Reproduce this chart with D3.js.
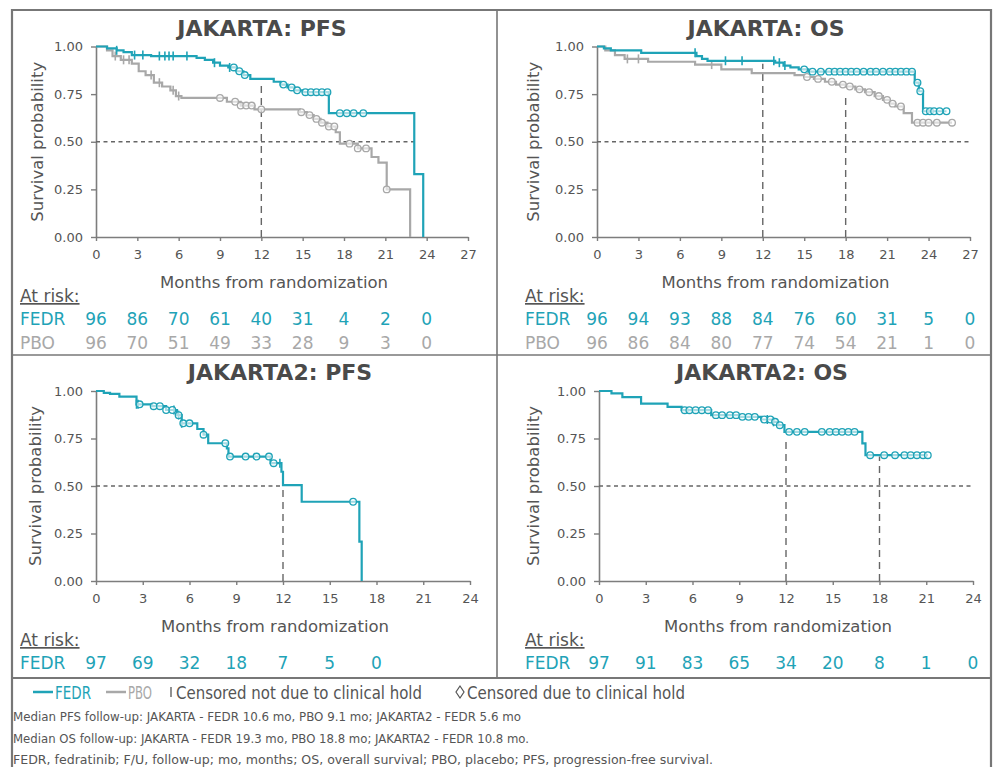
<!DOCTYPE html>
<html>
<head>
<meta charset="utf-8">
<script src="https://cdn.jsdelivr.net/npm/d3@7"></script>
<style>
  body { margin: 0; background: #fff; }
  text { font-family: "DejaVu Sans", Verdana, sans-serif; }
  .narrow { font-family: "Liberation Sans Narrow", "DejaVu Sans Condensed", "Roboto", sans-serif; }
</style>
</head>
<body>
<svg id="chart" width="995" height="767"></svg>
<script>
// ---- data (months, survival probability) ----

// JAKARTA PFS
const jakPfsFedr = [[0,1],[0.8,0.99],[1.5,0.98],[2.0,0.97],[2.6,0.955],[4.0,0.95],[7.3,0.94],[7.9,0.93],
  [8.5,0.915],[9.0,0.90],[9.6,0.89],[10.2,0.87],[10.7,0.85],[11.2,0.83],[12.9,0.815],[13.4,0.80],
  [13.9,0.785],[14.4,0.77],[15.0,0.76],[16.9,0.65],[23.1,0.33],[23.75,0]];
const jakPfsFedrTicks = [1.5, 2.8, 3.4, 4.6, 5.0, 5.3, 5.6, 6.6, 8.6, 9.7];
const jakPfsFedrHold = [10.0, 10.4, 10.8, 13.6, 14.2, 14.6, 15.2, 15.6, 16.0, 16.4, 16.8, 17.7, 18.2, 18.7, 19.4];
const jakPfsPbo = [[0,1],[0.8,0.98],[1.2,0.95],[1.8,0.93],[2.6,0.91],[3.1,0.87],[3.6,0.85],[4.2,0.81],
  [4.8,0.79],[5.4,0.77],[5.8,0.74],[6.2,0.73],[9.5,0.71],[10.5,0.69],[11.5,0.67],[14.8,0.655],
  [15.3,0.64],[15.8,0.62],[16.3,0.60],[16.8,0.58],[17.4,0.55],[17.7,0.49],[19.0,0.465],[20.0,0.42],
  [20.5,0.39],[21.1,0.25],[22.8,0]];
const jakPfsPboTicks = [1.4, 2.0, 2.4, 4.0, 4.6, 5.6, 6.0];
const jakPfsPboHold = [9.0, 10.1, 10.5, 10.9, 11.3, 12.0, 14.9, 15.5, 16.0, 16.4, 16.9, 17.3, 18.4, 19.0, 19.6, 21.1];

// JAKARTA OS
const jakOsFedr = [[0,1],[0.5,0.99],[1.0,0.98],[3.2,0.967],[7.2,0.95],[7.6,0.935],[8.0,0.925],
  [12.9,0.915],[13.5,0.90],[14.0,0.89],[14.6,0.88],[15.3,0.868],[23.0,0.81],[23.3,0.765],[23.6,0.66],[25.3,0.66]];
const jakOsFedrTicks = [7.1, 9.3, 10.5, 12.8, 13.2, 13.6];
const jakOsFedrHold = [15.0, 15.6, 16.2, 16.8, 17.2, 17.6, 18.0, 18.4, 18.8, 19.3, 19.8, 20.2, 20.7, 21.2,
  21.6, 22.0, 22.4, 22.8, 23.2, 23.4, 23.8, 24.1, 24.4, 24.8, 25.3];
const jakOsPbo = [[0,1],[0.6,0.98],[1.3,0.955],[2.0,0.935],[3.7,0.92],[7.1,0.905],[9.0,0.88],[11.2,0.86],
  [14.3,0.85],[15.0,0.84],[15.7,0.83],[16.5,0.815],[17.3,0.80],[18.0,0.79],[18.7,0.775],[19.4,0.76],
  [20.1,0.74],[20.7,0.72],[21.2,0.70],[21.6,0.685],[22.2,0.65],[22.8,0.60],[25.7,0.60]];
const jakOsPboTicks = [2.2, 3.0, 8.3];
const jakOsPboHold = [15.2, 16.0, 17.0, 17.8, 18.3, 19.0, 19.7, 20.4, 21.0, 21.4, 22.0, 23.2, 23.6, 24.0, 24.6, 25.7];

// JAKARTA2 PFS
const jak2PfsFedr = [[0,1],[0.5,0.99],[0.9,0.985],[1.5,0.97],[2.6,0.93],[3.6,0.92],[4.5,0.90],[5.2,0.873],
  [5.5,0.83],[6.5,0.80],[6.9,0.77],[7.2,0.725],[8.4,0.698],[8.5,0.655],[11.2,0.62],[11.9,0.575],
  [12.0,0.505],[13.2,0.417],[16.9,0.207],[17.05,0]];
const jak2PfsFedrTicks = [2.6, 2.7, 5.0, 5.3, 5.5, 11.8];
const jak2PfsFedrHold = [2.8, 3.7, 4.1, 4.5, 4.9, 5.3, 5.6, 6.0, 6.9, 8.3, 8.6, 9.6, 10.3, 11.1, 11.4, 16.5];

// JAKARTA2 OS
const jak2OsFedr = [[0,1],[0.8,0.987],[1.5,0.968],[2.7,0.934],[4.4,0.916],[5.3,0.899],[7.2,0.873],
  [9.0,0.864],[10.4,0.85],[11.1,0.838],[11.5,0.82],[11.9,0.785],[16.9,0.724],[17.1,0.662],[21.1,0.662]];
const jak2OsFedrTicks = [10.8, 11.2];
const jak2OsFedrHold = [5.5, 5.8, 6.2, 6.6, 7.0, 7.5, 7.9, 8.4, 8.8, 9.2, 9.6, 10.0, 10.6, 11.0, 11.3, 11.6,
  12.2, 12.7, 13.2, 14.3, 14.8, 15.2, 15.6, 16.0, 16.4, 17.4, 18.3, 19.0, 19.6, 20.0, 20.4, 20.8, 21.1];

// patients at risk, every 3 months
const jakPfsRiskFedr = [96, 86, 70, 61, 40, 31, 4, 2, 0];
const jakPfsRiskPbo = [96, 70, 51, 49, 33, 28, 9, 3, 0];
const jakOsRiskFedr = [96, 94, 93, 88, 84, 76, 60, 31, 5, 0];
const jakOsRiskPbo = [96, 86, 84, 80, 77, 74, 54, 21, 1, 0];
const jak2PfsRiskFedr = [97, 69, 32, 18, 7, 5, 0];
const jak2OsRiskFedr = [97, 91, 83, 65, 34, 20, 8, 1, 0];

const yTicks = [0, 0.25, 0.5, 0.75, 1];
const notes = [
  'Median PFS follow-up: JAKARTA - FEDR 10.6 mo, PBO 9.1 mo; JAKARTA2 - FEDR 5.6 mo',
  'Median OS follow-up: JAKARTA - FEDR 19.3 mo, PBO 18.8 mo; JAKARTA2 - FEDR 10.8 mo.',
  'FEDR, fedratinib; F/U, follow-up; mo, months; OS, overall survival; PBO, placebo; PFS, progression-free survival.'
];

const teal = '#1fa3b7';
const gray = '#a8a8a8';
const ink = '#4a4a4a';
const axisCol = '#7d7d7d';

const panels = [
  { title: 'JAKARTA: PFS', titleX: 262, left: 96, right: 468, top: 46.5, bottom: 237, xMax: 27,
    ylabX: 37, riskX: 20,
    curves: [
      { steps: jakPfsPbo, ticks: jakPfsPboTicks, hold: jakPfsPboHold, color: gray },
      { steps: jakPfsFedr, ticks: jakPfsFedrTicks, hold: jakPfsFedrHold, color: teal },
    ],
    risk: [['FEDR', jakPfsRiskFedr, teal], ['PBO', jakPfsRiskPbo, gray]],
    hEnd: 23.1, vLines: [[12, 0.815]] },
  { title: 'JAKARTA: OS', titleX: 766, left: 597, right: 970, top: 46.5, bottom: 237, xMax: 27,
    ylabX: 533, riskX: 525,
    curves: [
      { steps: jakOsPbo, ticks: jakOsPboTicks, hold: jakOsPboHold, color: gray },
      { steps: jakOsFedr, ticks: jakOsFedrTicks, hold: jakOsFedrHold, color: teal },
    ],
    risk: [['FEDR', jakOsRiskFedr, teal], ['PBO', jakOsRiskPbo, gray]],
    hEnd: 27, vLines: [[12, 0.91], [18, 0.745]] },
  { title: 'JAKARTA2: PFS', titleX: 280, left: 96, right: 470, top: 391, bottom: 581, xMax: 24,
    ylabX: 35, riskX: 20,
    curves: [
      { steps: jak2PfsFedr, ticks: jak2PfsFedrTicks, hold: jak2PfsFedrHold, color: teal },
    ],
    risk: [['FEDR', jak2PfsRiskFedr, teal]],
    hEnd: 12, vLines: [[12, 0.5]] },
  { title: 'JAKARTA2: OS', titleX: 762, left: 599, right: 973, top: 391, bottom: 581, xMax: 24,
    ylabX: 533, riskX: 525,
    curves: [
      { steps: jak2OsFedr, ticks: jak2OsFedrTicks, hold: jak2OsFedrHold, color: teal },
    ],
    risk: [['FEDR', jak2OsRiskFedr, teal]],
    hEnd: 24, vLines: [[12, 0.75], [18, 0.655]] },
];

const svg = d3.select('#chart');

// frame
const frame = svg.append('g').attr('stroke', '#777').attr('fill', 'none');
frame.append('path').attr('stroke-width', 2.2)
  .attr('d', 'M12,767 V10 H991 V767');
frame.append('line').attr('x1', 497).attr('x2', 497).attr('y1', 10).attr('y2', 678).attr('stroke-width', 1.6);
frame.append('line').attr('x1', 12).attr('x2', 991).attr('y1', 355).attr('y2', 355).attr('stroke-width', 1.6);
frame.append('line').attr('x1', 12).attr('x2', 991).attr('y1', 678).attr('y2', 678).attr('stroke-width', 2);

function survAt(steps, t) {
  let s = 1;
  for (const [tt, ss] of steps) if (tt <= t) s = ss;
  return s;
}

panels.forEach(p => {
  const g = svg.append('g');
  const x = d3.scaleLinear().domain([0, p.xMax]).range([p.left, p.right]);
  const y = d3.scaleLinear().domain([0, 1]).range([p.bottom, p.top]);

  g.append('text').attr('x', p.titleX).attr('y', p.top - 11)
    .attr('text-anchor', 'middle').attr('font-size', 22).attr('font-weight', 'bold')
    .attr('fill', ink).text(p.title);

  // axes
  const xAxis = g.append('g').attr('transform', `translate(0,${p.bottom})`)
    .call(d3.axisBottom(x).tickValues(d3.range(0, p.xMax + 1, 3)).tickSize(4).tickSizeOuter(0).tickPadding(9));
  const yAxis = g.append('g').attr('transform', `translate(${p.left},0)`)
    .call(d3.axisLeft(y).tickValues(yTicks).tickFormat(d3.format('.2f')).tickSize(5).tickSizeOuter(0).tickPadding(8));
  [xAxis, yAxis].forEach(a => {
    a.select('.domain').attr('stroke', axisCol).attr('stroke-width', 1.6);
    a.selectAll('.tick line').attr('stroke', axisCol).attr('stroke-width', 1.4);
    a.selectAll('.tick text').attr('fill', '#555').attr('font-size', 13)
      .attr('font-family', '"DejaVu Sans", sans-serif');
  });

  g.append('text')
    .attr('transform', `translate(${p.ylabX},${(p.top + p.bottom) / 2}) rotate(-90)`)
    .attr('text-anchor', 'middle').attr('dy', '0.35em')
    .attr('font-size', 16.5).attr('fill', '#555').text('Survival probability');

  g.append('text').attr('x', (p.left + p.right) / 2 - 8).attr('y', p.bottom + 51)
    .attr('text-anchor', 'middle').attr('font-size', 16.5).attr('fill', '#555')
    .text('Months from randomization');

  // reference lines
  g.append('line').attr('x1', x(0)).attr('x2', x(p.hEnd)).attr('y1', y(0.5)).attr('y2', y(0.5))
    .attr('stroke', '#666').attr('stroke-width', 1.4).attr('stroke-dasharray', '4,3.5');
  p.vLines.forEach(([t, s]) => {
    g.append('line').attr('x1', x(t)).attr('x2', x(t)).attr('y1', y(0)).attr('y2', y(s))
      .attr('stroke', '#666').attr('stroke-width', 1.4).attr('stroke-dasharray', '7,5');
  });

  // curves
  const line = d3.line().x(d => x(d[0])).y(d => y(d[1])).curve(d3.curveStepAfter);
  p.curves.forEach(c => {
    g.append('path').datum(c.steps).attr('d', line)
      .attr('fill', 'none').attr('stroke', c.color).attr('stroke-width', 2.2);
    g.selectAll(null).data(c.ticks).enter().append('line')
      .attr('x1', d => x(d)).attr('x2', d => x(d))
      .attr('y1', d => y(survAt(c.steps, d)) - 4.5).attr('y2', d => y(survAt(c.steps, d)) + 4.5)
      .attr('stroke', c.color).attr('stroke-width', 1.6);
    g.selectAll(null).data(c.hold).enter().append('circle')
      .attr('cx', d => x(d)).attr('cy', d => y(survAt(c.steps, d)))
      .attr('r', 3.3).attr('fill', '#fff').attr('fill-opacity', 0.6)
      .attr('stroke', c.color).attr('stroke-width', 1.3);
  });

  // at risk table
  g.append('text').attr('x', p.riskX).attr('y', p.bottom + 65)
    .attr('font-size', 17).attr('fill', '#555').attr('text-decoration', 'underline')
    .text('At risk:');
  p.risk.forEach(([label, vals, col], i) => {
    const yy = p.bottom + 88 + i * 24;
    g.append('text').attr('x', p.riskX).attr('y', yy)
      .attr('font-size', 17).attr('fill', col).text(label);
    g.selectAll(null).data(vals).enter().append('text')
      .attr('x', (d, j) => x(j * 3)).attr('y', yy)
      .attr('text-anchor', 'middle').attr('font-size', 17).attr('fill', col)
      .text(d => d);
  });
});

// legend
const leg = svg.append('g').attr('class', 'narrow');
const legY = 694;
leg.append('line').attr('x1', 33).attr('x2', 53).attr('y1', legY - 2).attr('y2', legY - 2)
  .attr('stroke', teal).attr('stroke-width', 2.5);
leg.append('text').attr('class', 'narrow').attr('x', 55).attr('y', legY + 5)
  .attr('font-size', 18).attr('fill', teal).attr('textLength', 36).attr('lengthAdjust', 'spacingAndGlyphs').text('FEDR');
leg.append('line').attr('x1', 106).attr('x2', 126).attr('y1', legY - 2).attr('y2', legY - 2)
  .attr('stroke', gray).attr('stroke-width', 2.5);
leg.append('text').attr('class', 'narrow').attr('x', 128).attr('y', legY + 5)
  .attr('font-size', 18).attr('fill', gray).attr('textLength', 24).attr('lengthAdjust', 'spacingAndGlyphs').text('PBO');
leg.append('line').attr('x1', 171).attr('x2', 171).attr('y1', legY - 7).attr('y2', legY + 3)
  .attr('stroke', '#555').attr('stroke-width', 1.3);
leg.append('text').attr('class', 'narrow').attr('x', 176).attr('y', legY + 5)
  .attr('font-size', 18).attr('fill', '#555').attr('textLength', 246).attr('lengthAdjust', 'spacingAndGlyphs')
  .text('Censored not due to clinical hold');
leg.append('path').attr('d', `M460,${legY - 8} L464,${legY - 2} L460,${legY + 4} L456,${legY - 2} Z`)
  .attr('fill', 'none').attr('stroke', '#555').attr('stroke-width', 1.2);
leg.append('text').attr('class', 'narrow').attr('x', 467).attr('y', legY + 5)
  .attr('font-size', 18).attr('fill', '#555').attr('textLength', 218).attr('lengthAdjust', 'spacingAndGlyphs')
  .text('Censored due to clinical hold');

// footnotes
const noteLen = [508, 516, 700];
notes.forEach((n, i) => {
  svg.append('text').attr('class', 'narrow').attr('x', 13).attr('y', 721 + i * 21.5)
    .attr('font-size', 13).attr('fill', '#555')
    .attr('textLength', noteLen[i]).attr('lengthAdjust', 'spacingAndGlyphs')
    .text(n);
});
</script>
</body>
</html>
